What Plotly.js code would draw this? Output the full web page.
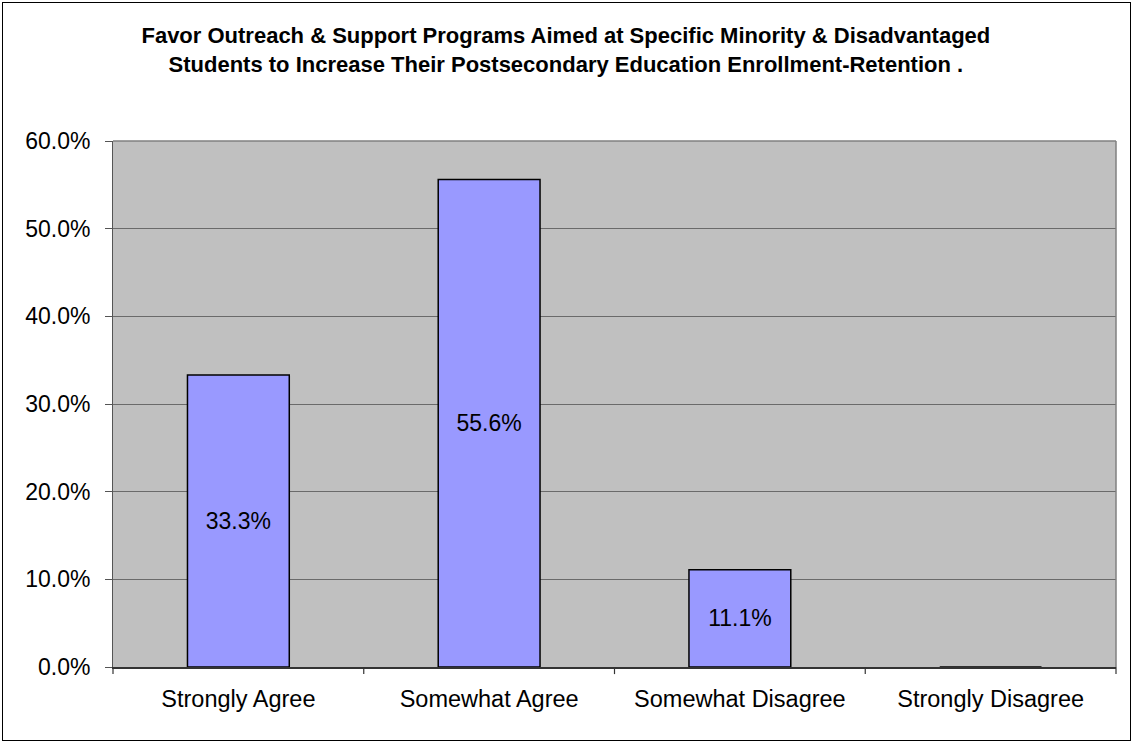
<!DOCTYPE html>
<html><head><meta charset="utf-8">
<script src="https://cdn.plot.ly/plotly-3.0.1.min.js"></script>
<style>
body{margin:0;padding:0;background:#fff;}
#wrap{position:relative;width:1134px;height:744px;}
#chart{width:1134px;height:744px;}
#frame{position:absolute;left:2px;top:2px;width:1127px;height:737px;border:1.5px solid #000;pointer-events:none;}
</style></head>
<body>
<div id="wrap"><div id="chart"></div><div id="frame"></div></div>
<script>
const categories = ["Strongly Agree","Somewhat Agree","Somewhat Disagree","Strongly Disagree"];
const values = [0.333, 0.556, 0.111, 0];
const labels = ["33.3%","55.6%","11.1%",""];
const yTicks = [0,0.1,0.2,0.3,0.4,0.5,0.6];
const yTickText = ["0.0%","10.0%","20.0%","30.0%","40.0%","50.0%","60.0%"];
const titleText = "Favor Outreach & Support Programs Aimed at Specific Minority & Disadvantaged<br>Students to Increase Their Postsecondary Education Enrollment-Retention .";

const FONT = 'Arial, Liberation Sans, sans-serif';
const trace = {
  type:'bar', x:categories, y:values, text:labels, textposition:'inside',
  insidetextanchor:'middle', textangle:0,
  textfont:{family:FONT, size:23, color:'#000'},
  marker:{color:'#9999FF', line:{color:'#000', width:1.5}},
  hoverinfo:'none'
};
const layout = {
  width:1134, height:744,
  margin:{l:113, r:18, t:141, b:77},
  paper_bgcolor:'#fff', plot_bgcolor:'#C0C0C0',
  bargap:0.594,
  showlegend:false,
  title:{text:titleText, x:0.499, xanchor:'center', y:0.942, yanchor:'top',
    font:{family:FONT, size:22, color:'#000', weight:'bold'}},
  xaxis:{type:'category', showgrid:false, showline:true, linecolor:'#333', linewidth:1.5,
    tickfont:{family:FONT, size:23.5, color:'#000'},
    ticks:'', ticklabelstandoff:10, mirror:false, fixedrange:true},
  yaxis:{range:[0,0.6], tickvals:yTicks, ticktext:yTickText, showgrid:true,
    gridcolor:'#6a6a6a', gridwidth:1, showline:true, linecolor:'#555', linewidth:1,
    ticks:'outside', ticklen:7, tickcolor:'#555', ticklabelstandoff:10,
    tickfont:{family:FONT, size:23, color:'#000'},
    zeroline:false, fixedrange:true},
  shapes:[
    {type:'line', xref:'paper', yref:'paper', x0:1, x1:1, y0:0, y1:1, line:{color:'#808080', width:1.5}},
    {type:'line', xref:'paper', yref:'paper', x0:0, x1:1, y0:1, y1:1, line:{color:'#808080', width:1.5}}
  ].concat([0,1,2,3,4].map(i=>({type:'line', xref:'paper', yref:'paper', x0:i/4, x1:i/4, y0:0, y1:-0.0135, line:{color:'#333', width:1.2}})))
};
Plotly.newPlot('chart',[trace],layout,{displayModeBar:false,staticPlot:true});
</script>
</body></html>
